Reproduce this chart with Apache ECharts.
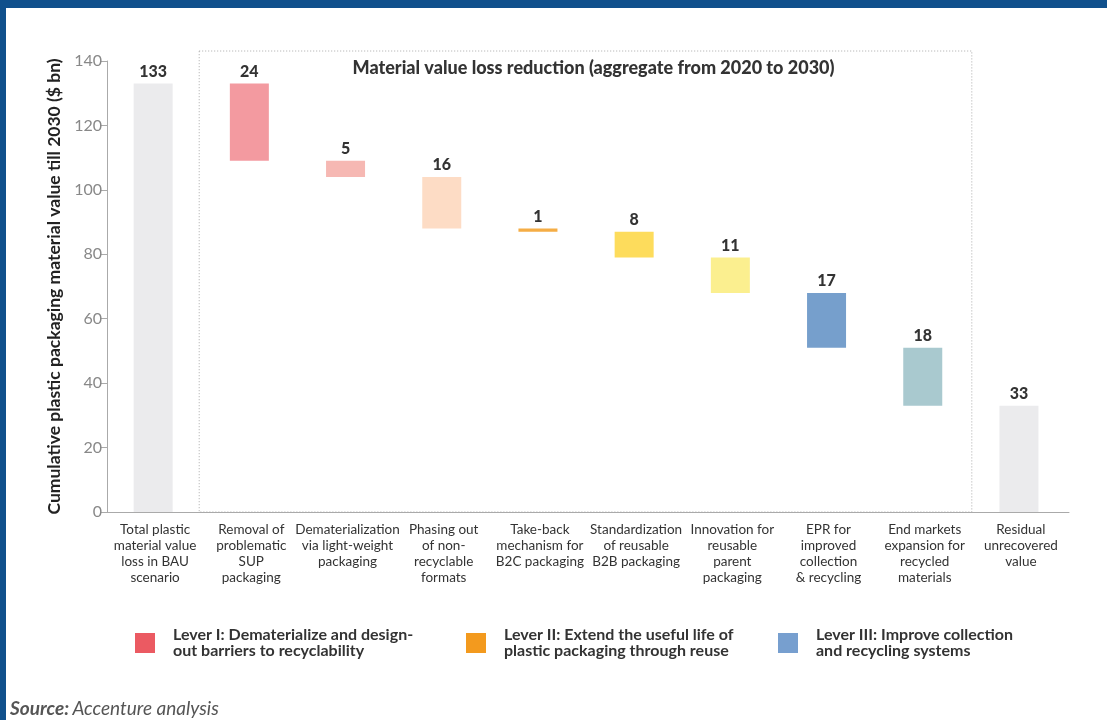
<!DOCTYPE html>
<html><head><meta charset="utf-8">
<script src="https://cdn.jsdelivr.net/npm/echarts@6/dist/echarts.min.js"></script>
<style>html,body{margin:0;padding:0;background:#fff}#c{width:1107px;height:720px}</style>
</head><body><div id="c"></div>
<script>
const categories = [
  'Total plastic\nmaterial value\nloss in BAU\nscenario',
  'Removal of\nproblematic\nSUP\npackaging',
  'Dematerialization\nvia light-weight\npackaging',
  'Phasing out\nof non-\nrecyclable\nformats',
  'Take-back\nmechanism for\nB2C packaging',
  'Standardization\nof reusable\nB2B packaging',
  'Innovation for\nreusable\nparent\npackaging',
  'EPR for\nimproved\ncollection\n& recycling',
  'End markets\nexpansion for\nrecycled\nmaterials',
  'Residual\nunrecovered\nvalue'
];
const values = [133, 24, 5, 16, 1, 8, 11, 17, 18, 33];
const barColors = ['#ebebed','#f39aa0','#f6b8b3','#fddcc5','#f5ad45','#fddc5c','#fbef8f','#769fcc','#a9c9cf','#ebebed'];
const yTicks = [0, 20, 40, 60, 80, 100, 120, 140];
const legendNames = [
  'Lever I: Dematerialize and design-\nout barriers to recyclability',
  'Lever II: Extend the useful life of\nplastic packaging through reuse',
  'Lever III: Improve collection\nand recycling systems'
];
const legendColors = ['#eb5a62', '#f39a1e', '#779fcf'];
const yAxisName = 'Cumulative plastic packaging material value till 2030 ($ bn)';
const boxTitle = 'Material value loss reduction (aggregate from 2020 to 2030)';

// waterfall bases: first and last bars start at 0; levers hang from running total
const bases = [];
let running = values[0];
values.forEach((v, i) => {
  if (i === 0 || i === values.length - 1) { bases.push(0); }
  else { running -= v; bases.push(running); }
});

const FONT = 'Lato, "Open Sans", sans-serif';
const chart = echarts.init(document.getElementById('c'));

const legendSeries = legendNames.map((n, i) => ({
  name: n, type: 'bar', data: [], itemStyle: { color: legendColors[i] }
}));
const legendLefts = [130, 461, 773];

chart.setOption({
  animation: false,
  textStyle: { fontFamily: FONT },
  grid: { left: 107, right: 38, top: 61, bottom: 208 },
  legend: legendNames.map((n, i) => ({
    data: [n], left: legendLefts[i], top: 622, icon: 'rect',
    itemWidth: 20, itemHeight: 20, itemGap: 0, selectedMode: false,
    textStyle: { fontFamily: FONT, fontWeight: 'bold', fontSize: 16, color: '#333', lineHeight: 16, padding: [0,0,0,13] }
  })),
  xAxis: {
    type: 'category', data: categories,
    axisLine: { lineStyle: { color: '#aaa', width: 1 } },
    axisTick: { show: false },
    axisLabel: { interval: 0, color: '#333', fontSize: 13.5, lineHeight: 16.3, margin: 9, fontFamily: FONT }
  },
  yAxis: {
    type: 'value', min: yTicks[0], max: yTicks[yTicks.length - 1], interval: 20,
    name: yAxisName, nameLocation: 'middle', nameGap: 42, nameRotate: 90,
    nameTextStyle: { fontWeight: 'bold', fontSize: 17.5, color: '#222', fontFamily: FONT },
    axisLine: { show: true, lineStyle: { color: '#aaa' } },
    axisTick: { show: true, length: 7, lineStyle: { color: '#aaa' } },
    axisLabel: { color: '#888', fontSize: 16, margin: 5, fontFamily: FONT },
    splitLine: { show: false }
  },
  series: [
    { type: 'bar', stack: 'w', data: bases, barWidth: 39, itemStyle: { color: 'transparent' }, silent: true },
    {
      type: 'bar', stack: 'w', barWidth: 39,
      data: values.map((v, i) => ({ value: v, itemStyle: { color: barColors[i] } })),
      label: { show: true, position: 'top', distance: 4, fontWeight: 900, fontSize: 16, color: '#333', fontFamily: FONT }
    },
    ...legendSeries
  ]
});

// decorative frame and dotted lever box
const c1 = chart.convertToPixel({ xAxisIndex: 0 }, categories[0]);
const c2 = chart.convertToPixel({ xAxisIndex: 0 }, categories[1]);
const c9 = chart.convertToPixel({ xAxisIndex: 0 }, categories[8]);
const c10 = chart.convertToPixel({ xAxisIndex: 0 }, categories[9]);
const y0 = chart.convertToPixel({ yAxisIndex: 0 }, 0);
const bx1 = (c1 + c2) / 2 - 4, bx2 = (c9 + c10) / 2 - 1;
const by1 = 51;
chart.setOption({
  graphic: [
    { type: 'rect', shape: { x: 0, y: 0, width: 1107, height: 8 }, style: { fill: '#10508c' }, z: 100 },
    { type: 'rect', shape: { x: 0, y: 0, width: 6, height: 720 }, style: { fill: '#10508c' }, z: 100 },
    { type: 'rect', shape: { x: bx1, y: by1, width: bx2 - bx1, height: y0 - by1 },
      style: { fill: 'none', stroke: '#aaa', lineWidth: 1, lineDash: [1, 2] }, z: -1, silent: true },
    { type: 'text',
      style: { text: boxTitle, x: (bx1 + bx2) / 2 + 8, y: 59, textAlign: 'center', font: '900 18px ' + FONT, fill: '#333' }, z: 10 },
    { type: 'text', style: { x: 10, y: 699, text: '{a|Source:} {b|Accenture analysis}',
        rich: { a: { fontWeight: 'bold', fontStyle: 'italic', fontSize: 19, fill: '#555', fontFamily: FONT },
                b: { fontStyle: 'italic', fontSize: 19, fill: '#555', fontFamily: FONT } } } }
  ]
});
</script></body></html>
